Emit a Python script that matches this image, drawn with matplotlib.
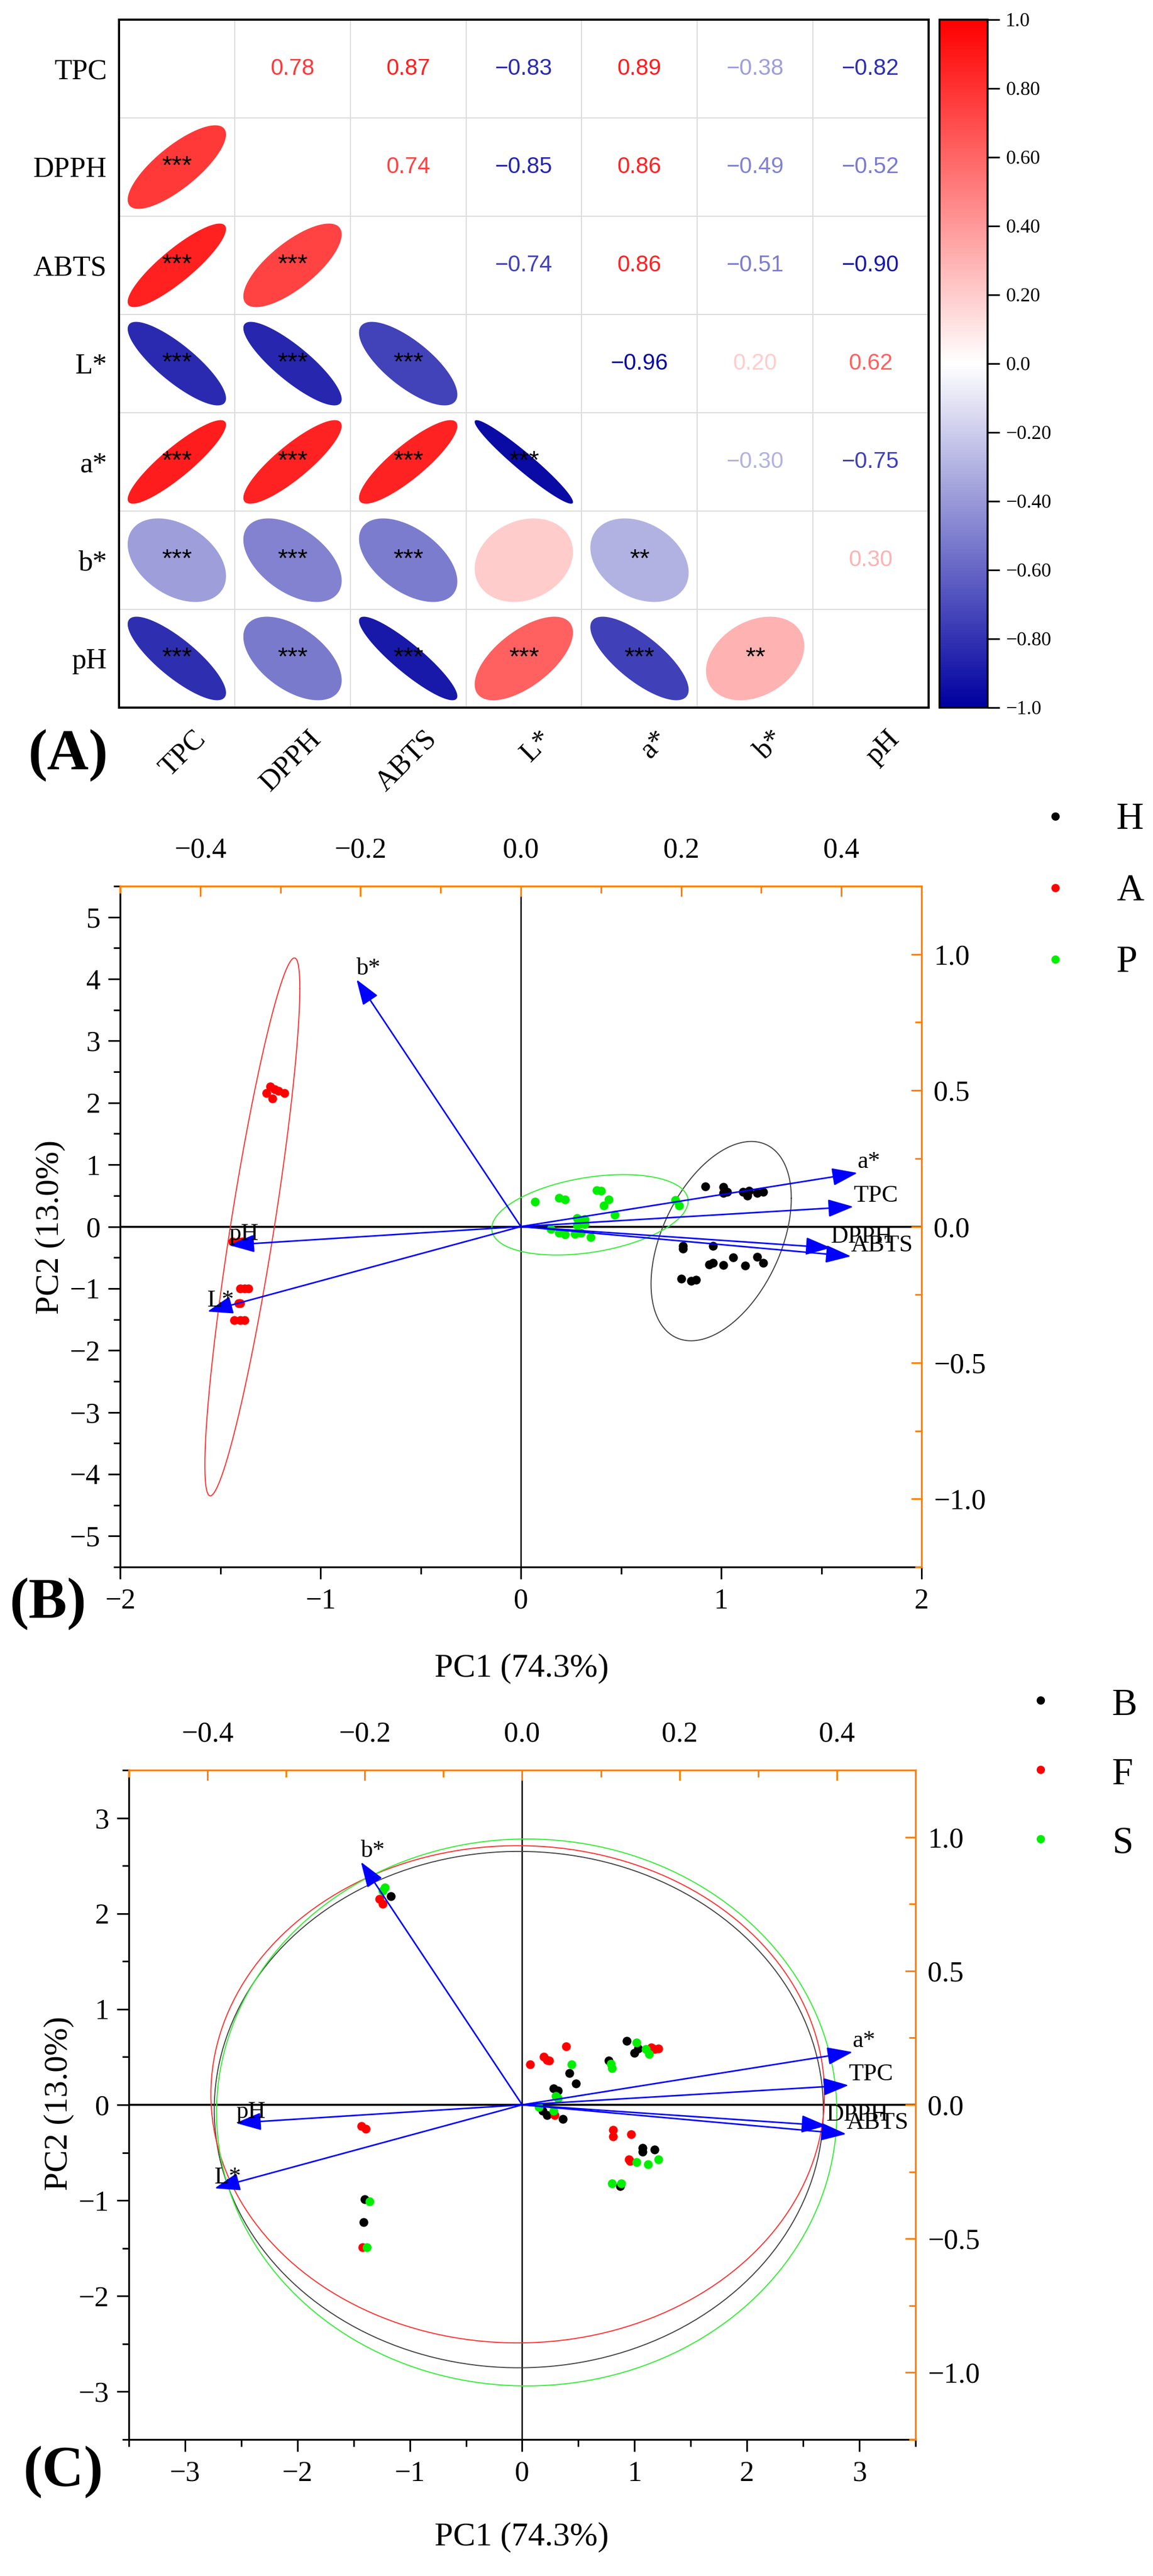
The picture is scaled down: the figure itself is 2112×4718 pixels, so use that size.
import numpy as np
import matplotlib
matplotlib.use('Agg')
import matplotlib.pyplot as plt
from matplotlib.colors import LinearSegmentedColormap, Normalize
from matplotlib.cm import ScalarMappable
from matplotlib.ticker import MultipleLocator, FuncFormatter

plt.rcParams['font.family'] = ['Liberation Serif', 'DejaVu Serif']
plt.rcParams['axes.unicode_minus'] = True

# ---------------- data ----------------
variables = ['TPC', 'DPPH', 'ABTS', 'L*', 'a*', 'b*', 'pH']
corr = np.array([
    [1.00, 0.78, 0.87, -0.83, 0.89, -0.38, -0.82],
    [0.78, 1.00, 0.74, -0.85, 0.86, -0.49, -0.52],
    [0.87, 0.74, 1.00, -0.74, 0.86, -0.51, -0.90],
    [-0.83, -0.85, -0.74, 1.00, -0.96, 0.20, 0.62],
    [0.89, 0.86, 0.86, -0.96, 1.00, -0.30, -0.75],
    [-0.38, -0.49, -0.51, 0.20, -0.30, 1.00, 0.30],
    [-0.82, -0.52, -0.90, 0.62, -0.75, 0.30, 1.00],
])
signif = [
    ['', '', '', '', '', '', ''],
    ['***', '', '', '', '', '', ''],
    ['***', '***', '', '', '', '', ''],
    ['***', '***', '***', '', '', '', ''],
    ['***', '***', '***', '***', '', '', ''],
    ['***', '***', '***', '', '**', '', ''],
    ['***', '***', '***', '***', '***', '**', ''],
]
cbar_ticks = [1.0, 0.8, 0.6, 0.4, 0.2, 0.0, -0.2, -0.4, -0.6, -0.8, -1.0]
cbar_labels = ['1.0', '0.80', '0.60', '0.40', '0.20', '0.0',
               '\u22120.20', '\u22120.40', '\u22120.60', '\u22120.80', '\u22121.0']

# PCA loadings (shared by B and C)
load_names = ['TPC', 'DPPH', 'ABTS', 'L*', 'a*', 'b*', 'pH']
load_x = [0.415, 0.387, 0.412, -0.391, 0.420, -0.205, -0.364]
load_y = [0.073, -0.078, -0.109, -0.312, 0.197, 0.907, -0.068]

# panel B scores (harvest groups)
H_x = [0.92, 1.01, 1.01, 1.03, 1.11, 1.13, 1.14, 1.18, 1.21, 0.81, 0.81,
       0.96, 0.94, 0.96, 1.01, 1.06, 1.12, 1.18, 1.21, 0.80, 0.85, 0.875]
H_y = [0.65, 0.64, 0.54, 0.56, 0.56, 0.50, 0.58, 0.54, 0.56, -0.31, -0.36,
       -0.31, -0.61, -0.59, -0.62, -0.50, -0.63, -0.49, -0.59, -0.84, -0.88, -0.86]
A_x = [-1.27, -1.25, -1.23, -1.21, -1.18, -1.24, -1.44, -1.41, -1.39,
       -1.40, -1.38, -1.36, -1.41, -1.40, -1.43, -1.40, -1.38]
A_y = [2.16, 2.26, 2.22, 2.19, 2.16, 2.07, -0.24, -0.24, -0.24,
       -1.00, -1.00, -1.00, -1.24, -1.24, -1.51, -1.51, -1.51]
P_x = [0.07, 0.19, 0.22, 0.38, 0.40, 0.44, 0.415, 0.47, 0.77, 0.79, 0.28,
       0.30, 0.32, 0.28, 0.32, 0.15, 0.19, 0.22, 0.27, 0.30, 0.35]
P_y = [0.40, 0.46, 0.44, 0.59, 0.58, 0.44, 0.34, 0.19, 0.43, 0.34, 0.14,
       0.08, 0.12, 0.02, 0.04, -0.04, -0.10, -0.13, -0.12, -0.10, -0.17]

# panel C scores (processing groups)
Bk_x = [0.93, 1.03, 1.00, 0.77, 0.42, 0.48, 0.28, 0.32, 0.18, 0.22, 0.36,
        1.07, 1.07, 1.18, 0.87, -1.17, -1.40, -1.41]
Bk_y = [0.67, 0.59, 0.54, 0.46, 0.33, 0.22, 0.17, 0.15, -0.06, -0.11, -0.15,
        -0.45, -0.49, -0.47, -0.85, 2.18, -0.99, -1.23]
F_x = [0.07, 0.19, 0.22, 0.24, 0.39, 1.15, 1.18, 1.21, 0.81, 0.81, 0.97,
       0.95, 0.96, 0.29, -1.27, -1.24, -1.43, -1.39, -1.42]
F_y = [0.42, 0.50, 0.47, 0.46, 0.61, 0.60, 0.58, 0.59, -0.26, -0.33, -0.31,
       -0.57, -0.59, -0.11, 2.15, 2.10, -0.22, -0.25, -1.49]
S_x = [0.44, 1.02, 1.10, 1.13, 0.79, 0.80, 0.30, 0.32, 0.28, 0.15, 1.02,
       1.12, 1.21, 0.80, 0.88, -1.24, -1.22, -1.36, -1.38]
S_y = [0.42, 0.65, 0.58, 0.53, 0.43, 0.38, 0.09, 0.07, -0.06, -0.02, -0.60,
       -0.62, -0.57, -0.82, -0.82, 2.24, 2.27, -1.01, -1.49]

# confidence ellipses: centre x, centre y, half width, half height, tilt factor
ell_B = {'H': (1.00, -0.235, 0.35, 1.61, 0.43),
         'A': (-1.34, -0.005, 0.237, 4.345, 0.886),
         'P': (0.345, 0.19, 0.49, 0.65, 0.34)}
ell_C = {'B': (-0.03, -0.05, 2.71, 2.70, 0.0),
         'F': (-0.04, 0.11, 2.73, 2.60, 0.0),
         'S': (0.04, -0.08, 2.76, 2.86, 0.0)}

colors = {'H': 'black', 'A': '#ff0000', 'P': '#00ee00',
          'B': 'black', 'F': '#ff0000', 'S': '#00ee00'}
ell_colors = {'H': '#444444', 'A': '#ff3030', 'P': '#33ee33',
              'B': '#444444', 'F': '#ff3030', 'S': '#33ee33'}

ORANGE = '#ff8000'
W, H = 2112, 4718
fig = plt.figure(figsize=(W / 200, H / 200), dpi=200)


def fx(px):
    return px / W


def fy(py):
    return 1 - py / H


# ---------------- panel A: correlation ellipses ----------------
cmap = LinearSegmentedColormap.from_list('bwr_corr', ['#0000a0', '#ffffff', '#ff0000'])
norm = Normalize(-1, 1)

axA = fig.add_axes([fx(218), fy(1296), fx(1701 - 218), (1296 - 36) / H])
n = len(variables)
axA.set_xlim(0, n)
axA.set_ylim(n, 0)
for k in range(1, n):
    axA.axvline(k, color='#dcdcdc', lw=0.7, zorder=0)
    axA.axhline(k, color='#dcdcdc', lw=0.7, zorder=0)

t = np.linspace(0, 2 * np.pi, 200)
for i in range(n):
    for j in range(n):
        r = corr[i, j]
        if i > j:
            d = np.arccos(r)
            ex = np.cos(t + d / 2) * 0.425
            ey = np.cos(t - d / 2) * 0.425
            axA.fill(j + 0.5 + ex, i + 0.5 - ey, color=cmap(norm(r)), lw=0, zorder=2)
            if signif[i][j]:
                axA.text(j + 0.5, i + 0.5, signif[i][j], ha='center', va='center',
                         fontsize=17, family=['Liberation Sans', 'DejaVu Sans'], zorder=3)
        elif i < j:
            axA.text(j + 0.5, i + 0.5, f'{r:.2f}'.replace('-', '\u2212'),
                     ha='center', va='center', color=cmap(norm(r)), fontsize=15,
                     family=['Liberation Sans Narrow', 'Liberation Sans', 'DejaVu Sans'])

axA.set_yticks(np.arange(n) + 0.5, variables, fontsize=19)
axA.set_xticks(np.arange(n) + 0.63, variables, fontsize=19, rotation=45,
               ha='right', va='top', rotation_mode='anchor')
axA.tick_params(axis='y', length=0, pad=8)
axA.tick_params(axis='x', length=0, pad=12)
for s in axA.spines.values():
    s.set_linewidth(1.4)

cax = fig.add_axes([fx(1721), fy(1296), fx(88), (1296 - 36) / H])
cb = fig.colorbar(ScalarMappable(norm=norm, cmap=cmap), cax=cax)
cb.set_ticks(cbar_ticks)
cb.set_ticklabels(cbar_labels)
cb.ax.tick_params(length=8, width=1.1, labelsize=13, pad=4)
cb.outline.set_linewidth(1.3)

fig.text(fx(125), fy(1384), '(A)', fontsize=38, fontweight='bold', ha='center', va='center')


# ---------------- PCA biplots ----------------
def minus_fmt(fmt):
    return FuncFormatter(lambda v, p: (fmt % v).replace('-', '\u2212'))


def biplot(left, right, top, bottom, lim, groups, ellipses):
    rect = [fx(left), fy(bottom), fx(right - left), (bottom - top) / H]
    ax = fig.add_axes(rect)
    ax.set_xlim(-lim[0], lim[0])
    ax.set_ylim(-lim[1], lim[1])
    ax.spines['top'].set_visible(False)
    ax.spines['right'].set_visible(False)
    for s in ('left', 'bottom'):
        ax.spines[s].set_linewidth(1.2)
    ax.xaxis.set_major_locator(MultipleLocator(1))
    ax.yaxis.set_major_locator(MultipleLocator(1))
    ax.xaxis.set_minor_locator(MultipleLocator(0.5))
    ax.yaxis.set_minor_locator(MultipleLocator(0.5))
    ax.tick_params(which='major', direction='out', length=8, width=1.1, labelsize=19)
    ax.tick_params(which='minor', direction='out', length=4.5, width=1.1)
    ax.tick_params(axis='x', pad=6)
    ax.tick_params(axis='y', pad=5)
    ax.axhline(0, color='black', lw=1.3, zorder=1)
    ax.axvline(0, color='black', lw=0.9, zorder=1)

    for g, (cx, cy, sx, sy, rho) in ellipses.items():
        ax.plot(cx + sx * np.cos(t),
                cy + sy * (rho * np.cos(t) + np.sqrt(1 - rho ** 2) * np.sin(t)),
                color=ell_colors[g], lw=0.7, zorder=2)
    for g, (gx, gy) in groups.items():
        ax.scatter(gx, gy, s=34, color=colors[g], lw=0, zorder=3)

    ax2 = fig.add_axes(rect, facecolor='none')
    ax2.set_xlim(-0.5, 0.5)
    ax2.set_ylim(-1.25, 1.25)
    ax2.xaxis.tick_top()
    ax2.yaxis.tick_right()
    ax2.spines['left'].set_visible(False)
    ax2.spines['bottom'].set_visible(False)
    for s in ('top', 'right'):
        ax2.spines[s].set_color(ORANGE)
        ax2.spines[s].set_linewidth(1.2)
    ax2.xaxis.set_major_locator(MultipleLocator(0.2))
    ax2.xaxis.set_minor_locator(MultipleLocator(0.1))
    ax2.yaxis.set_major_locator(MultipleLocator(0.5))
    ax2.yaxis.set_minor_locator(MultipleLocator(0.25))
    ax2.xaxis.set_major_formatter(minus_fmt('%.1f'))
    ax2.yaxis.set_major_formatter(minus_fmt('%.1f'))
    ax2.tick_params(which='both', direction='in', color=ORANGE, labelcolor='black', width=1.1)
    ax2.tick_params(which='major', length=7, labelsize=19)
    ax2.tick_params(which='minor', length=4.5)
    ax2.tick_params(axis='x', pad=15)
    ax2.tick_params(axis='y', pad=8)

    for name, lx, ly in zip(load_names, load_x, load_y):
        ax2.annotate('', xy=(lx, ly), xytext=(0, 0),
                     arrowprops=dict(arrowstyle='-|>,head_length=0.8,head_width=0.28',
                                     color='blue', lw=1.0, shrinkA=0, shrinkB=0,
                                     mutation_scale=18))
        ax2.text(lx, ly, name, ha='left', va='bottom', fontsize=16)
    return ax, ax2


# panel B
biplot(220, 1688, 1623, 2870, (2.0, 5.5),
       {'H': (H_x, H_y), 'A': (A_x, A_y), 'P': (P_x, P_y)}, ell_B)
fig.text(fx(955), fy(3056), 'PC1 (74.3%)', fontsize=22, ha='center', va='center')
fig.text(fx(92), fy(2247), 'PC2 (13.0%)', fontsize=22, ha='center', va='center', rotation=90)
fig.text(fx(88), fy(2938), '(B)', fontsize=38, fontweight='bold', ha='center', va='center')

# panel C
biplot(236, 1677, 3242, 4468, (3.5, 3.5),
       {'B': (Bk_x, Bk_y), 'F': (F_x, F_y), 'S': (S_x, S_y)}, ell_C)
fig.text(fx(955), fy(4647), 'PC1 (74.3%)', fontsize=22, ha='center', va='center')
fig.text(fx(108), fy(3852), 'PC2 (13.0%)', fontsize=22, ha='center', va='center', rotation=90)
fig.text(fx(116), fy(4528), '(C)', fontsize=38, fontweight='bold', ha='center', va='center')

# legends (drawn in figure pixel space)
lax = fig.add_axes([0, 0, 1, 1], facecolor='none')
lax.set_xlim(0, W)
lax.set_ylim(H, 0)
lax.axis('off')
legend_B = ['H', 'A', 'P']
legend_C = ['B', 'F', 'S']
for k, g in enumerate(legend_B):
    yy = 1495 + 131 * k
    lax.scatter([1933], [yy], s=30, color=colors[g], lw=0)
    lax.text(2045, yy + 6, g, fontsize=25, ha='left', va='center')
for k, g in enumerate(legend_C):
    yy = 3114 + 127 * k
    lax.scatter([1906], [yy], s=30, color=colors[g], lw=0)
    lax.text(2037, yy + 10, g, fontsize=25, ha='left', va='center')

fig.savefig('out.png', dpi=200, facecolor='white')
